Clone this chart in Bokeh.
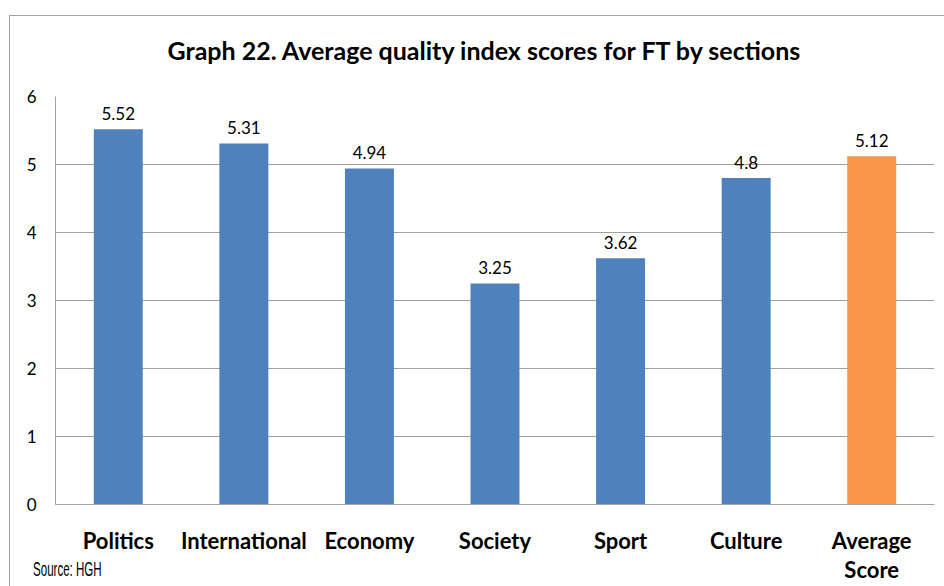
from bokeh.plotting import figure
from bokeh.models import ColumnDataSource, FactorRange, Range1d, SingleIntervalTicker, Div
from bokeh.layouts import column
from bokeh.embed import file_html
from bokeh.resources import INLINE

categories = ["Politics", "International", "Economy", "Society", "Sport", "Culture", "Average\nScore"]
scores = [5.52, 5.31, 4.94, 3.25, 3.62, 4.8, 5.12]
score_labels = ["5.52", "5.31", "4.94", "3.25", "3.62", "4.8", "5.12"]
bar_colors = ["#4F81BD"] * 6 + ["#F79646"]
title_text = "Graph 22. Average quality index scores for FT by sections"
source_text = "Source: HGH"

src = ColumnDataSource(dict(cat=categories, val=scores, lab=score_labels, col=bar_colors))

p = figure(width=944, height=586, x_range=FactorRange(*categories, range_padding=0),
           y_range=Range1d(0, 6), output_backend="svg", toolbar_location=None,
           min_border_left=55, min_border_right=10, min_border_top=96, min_border_bottom=81)

p.title.text = title_text
p.title.align = "left"
p.title.text_font = "Lato"
p.title.text_font_size = "25px"
p.title.text_font_style = "bold"
p.title.text_color = "#000000"
p.title.standoff = 63
p.title.offset = 112

p.vbar(x="cat", top="val", width=0.39, fill_color="col", line_color=None, source=src)
p.text(x="cat", y="val", text="lab", source=src, text_align="center", text_baseline="alphabetic",
       y_offset=-16, text_font_size="17px", text_color="#000000",
       text_font={"value": "Lato"})

p.outline_line_color = None
p.background_fill_color = "white"
p.border_fill_color = None
p.xgrid.grid_line_color = None
p.ygrid.grid_line_color = "#A0A0A0"
p.ygrid.grid_line_width = 1

p.yaxis.ticker = SingleIntervalTicker(interval=1)
p.yaxis.axis_line_color = "#A0A0A0"
p.yaxis.major_tick_out = 0
p.yaxis.major_tick_in = 0
p.yaxis.minor_tick_out = 0
p.yaxis.minor_tick_in = 0
p.yaxis.major_label_standoff = 19
p.yaxis.major_label_text_font = "Lato"
p.yaxis.major_label_text_font_size = "17px"
p.yaxis.major_label_text_color = "#000000"

p.xaxis.axis_line_color = "#A0A0A0"
p.xaxis.major_tick_out = 0
p.xaxis.major_tick_in = 0
p.xaxis.major_label_standoff = 22
p.xaxis.major_label_text_font = "Lato"
p.xaxis.major_label_text_font_size = "22px"
p.xaxis.major_label_text_font_style = "bold"
p.xaxis.major_label_text_color = "#000000"
p.xaxis.major_label_text_line_height = 1.1

border = Div(text="", width=10, height=10, margin=0,
             styles={"position": "absolute", "left": "9px", "top": "15px",
                     "width": "935px", "height": "571px", "box-sizing": "border-box",
                     "border-top": "1px solid #A0A0A0", "border-left": "1px solid #A0A0A0",
                     "pointer-events": "none"})
source_div = Div(text=source_text, width=10, height=10, margin=0,
                 styles={"position": "absolute", "left": "33px", "top": "558px",
                         "font-family": "'Liberation Sans', sans-serif",
                         "font-size": "21px", "color": "#000000", "white-space": "nowrap",
                         "line-height": "22px", "transform": "scaleX(0.55)",
                         "transform-origin": "left center"})

layout = column(p, border, source_div)
open("out.html", "w").write(file_html(layout, INLINE))
